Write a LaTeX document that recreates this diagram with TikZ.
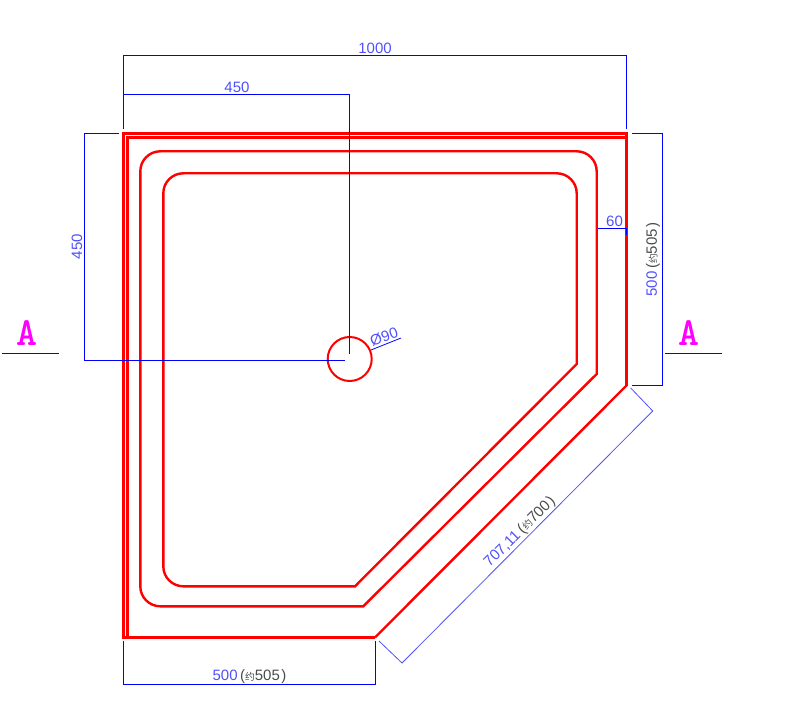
\documentclass[tikz,border=0pt]{standalone}
\usepackage{fontspec}
\setmainfont{Liberation Sans}
\newfontfamily\cjk{Noto Sans CJK SC}
\definecolor{dimblue}{RGB}{0,0,255}
\definecolor{dimtext}{RGB}{80,80,250}
\definecolor{dimgray}{RGB}{75,75,75}
\definecolor{secpink}{RGB}{255,0,255}
\tikzset{
  dimline/.style={draw=dimblue,line width=1pt},
  dimthin/.style={draw=dimtext,line width=0.8pt},
  outline/.style={draw=red,line width=2.4pt},
  dimlabel/.style={inner sep=0pt,text=dimtext,font=\fontsize{15}{15}\selectfont},
  seclabel/.style={inner sep=0pt,text=secpink,font=\ttfamily\bfseries\fontsize{40}{40}\selectfont}
}
\newcommand{\altdim}[2]{#1{\color{dimgray}\hspace{2.5pt}(\scalebox{0.65}{\cjk 约}#2\hspace{1.5pt})}}
\begin{document}
\begin{tikzpicture}[x=1pt,y=-1pt]
  \useasboundingbox (0,0) rectangle (789,719);

  % tray
  \draw[outline,line width=3.4pt,line join=miter] (375,637.5) -- (123.7,637.5) -- (123.7,133.5) -- (628,133.5);
  \draw[outline,line width=2.6pt] (127.7,638.5) -- (127.7,137.5) -- (627,137.5);
  \draw[outline,line width=3.4pt] (626.5,132) -- (626.5,386);
  \draw[outline] (626.5,385.5) -- (375,637.5);
  \draw[outline] (363.3,606.3) [rounded corners=20pt] -- (140.3,606.3) -- (140.3,151.3) -- (596.7,151.3) -- (596.7,200) [sharp corners] -- (596.7,374) -- cycle;
  \draw[outline] (355,586.3) [rounded corners=20pt] -- (163.3,586.3) -- (163.3,173.3) -- (576.7,173.3) -- (576.7,220) [sharp corners] -- (576.7,364) -- cycle;
  \node[circle,outline,line width=2pt,minimum size=44pt,inner sep=0pt] (drain) at (349.7,359) {};

  % dimensions
  \draw[dimline] (123.5,129) -- (123.5,55.5) -- (626.5,55.5) -- (626.5,129);
  \node[dimlabel] (top) at (375,48) {1000};
  \draw[dimline] (123.5,94.5) -- (349.3,94.5) -- (349.3,354);
  \node[dimlabel] (topa) at (237,87) {450};
  \draw[dimline] (119,133.5) -- (84.5,133.5) -- (84.5,360.5) -- (345,360.5);
  \node[dimlabel,rotate=90] (lefta) at (77,246.5) {450};
  \draw[dimline] (632,133.5) -- (662.5,133.5) -- (662.5,385.5) -- (632,385.5);
  \node[dimlabel,rotate=90] (right) at (653,259.5) {\altdim{500}{505}};
  \draw[dimline] (598,228.5) -- (626.5,228.5) -- (626.5,235);
  \node[dimlabel] (inset) at (614.5,221) {60};
  \draw[dimline] (123.5,641) -- (123.5,684.5) -- (375.5,684.5) -- (375.5,641);
  \node[dimlabel] (bottom) at (249.5,676.5) {\altdim{500}{505}};
  \draw[dimthin] (630.7,388) -- (652.7,411) -- (402,663) -- (379,641);
  \node[dimlabel,rotate=45] (diag) at (520,532) {\altdim{707,11}{700}};
  \draw[dimline,line width=0.8pt] (371,350) -- (401,338);
  \node[dimlabel,rotate=20] (dia) at (384,337) {Ø90};

  % section marks
  \draw[dimline] (2,353.5) -- (59,353.5);
  \node[seclabel] (seca) at (27,333.5) {A};
  \draw[dimline] (665,353.5) -- (722,353.5);
  \node[seclabel] (secb) at (689,333.5) {A};
\end{tikzpicture}
\end{document}
